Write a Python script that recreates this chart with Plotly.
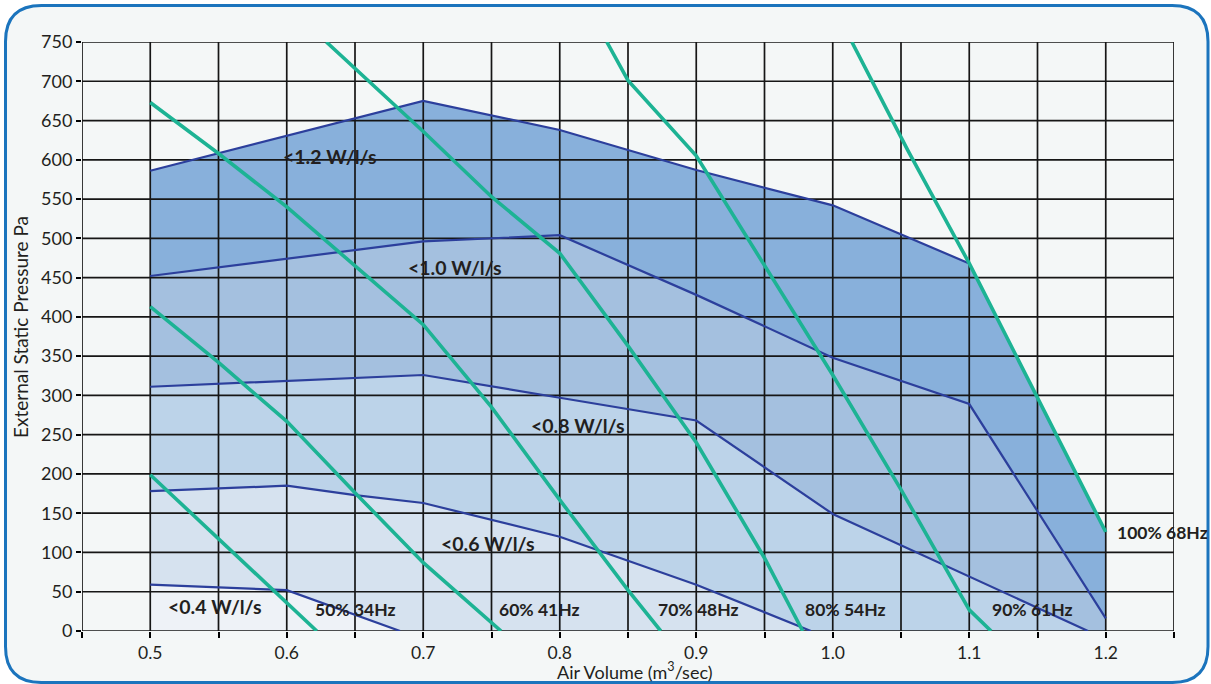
import plotly.graph_objects as go

# ---------------- data ----------------
x_grid = [round(0.45 + 0.05 * i, 2) for i in range(17)]       # 0.45 .. 1.25
y_grid = [50 * i for i in range(16)]                           # 0 .. 750
x_tick_vals = [0.5, 0.6, 0.7, 0.8, 0.9, 1.0, 1.1, 1.2]
x_tick_text = ["0.5", "0.6", "0.7", "0.8", "0.9", "1.0", "1.1", "1.2"]

# specific fan power boundaries (W/l/s)
w12_x = [0.5, 0.7, 0.8, 0.9, 1.0, 1.1]
w12_y = [586, 675, 638, 587, 542, 468]
w10_x = [0.5, 0.7, 0.8, 0.9, 1.0, 1.1, 1.2]
w10_y = [452, 496, 504, 428, 348, 289, 16]
w08_x = [0.5, 0.7, 0.8, 0.9, 1.0, 1.187]
w08_y = [311, 326, 297, 268, 149, 0]
w06_x = [0.5, 0.6, 0.65, 0.7, 0.8, 0.9, 0.984]
w06_y = [178, 185, 173, 163, 120, 59, 0]
w04_x = [0.5, 0.6, 0.683]
w04_y = [59, 52, 0]

# fan speed curves
hz50_x = [0.5, 0.55, 0.6, 0.622]
hz50_y = [199, 117, 36, 0]
hz60_x = [0.5, 0.55, 0.6, 0.65, 0.7, 0.757]
hz60_y = [413, 342, 267, 176, 87, 0]
hz70_x = [0.5, 0.55, 0.6, 0.65, 0.7, 0.75, 0.8, 0.85, 0.874]
hz70_y = [673, 608, 540, 465, 390, 285, 167, 52, 0]
hz80_x = [0.629, 0.7, 0.75, 0.8, 0.85, 0.9, 0.95, 0.978]
hz80_y = [750, 636, 553, 481, 363, 240, 93, 0]
hz90_x = [0.8345, 0.85, 0.9, 0.95, 1.0, 1.05, 1.1, 1.116]
hz90_y = [750, 701, 605, 465, 326, 180, 27, 0]
hz100_x = [1.014, 1.055, 1.1, 1.15, 1.2]
hz100_y = [750, 612, 468, 296, 126]

sfp_labels = ["<1.2 W/l/s", "<1.0 W/l/s", "<0.8 W/l/s", "<0.6 W/l/s", "<0.4 W/l/s"]
sfp_label_x = [0.631, 0.723, 0.813, 0.747, 0.547]
sfp_label_y = [604, 463, 262, 112, 31]

hz_labels = ["50% 34Hz", "60% 41Hz", "70% 48Hz", "80% 54Hz", "90% 61Hz", "100% 68Hz"]
hz_label_x = [0.65, 0.785, 0.902, 1.009, 1.146, 1.207]
hz_label_y = [27, 27, 27, 27, 27, 126]

# ---------------- styling ----------------
W, H = 1211, 684
L, R, T, B = 82, 1174, 42, 631
BG = "#f4f7f7"
TXT = "#231f20"
BLUE = "#2c3f9c"
GREEN = "#1db394"
FILLS = ["#88b0db", "#a4c0df", "#bcd3e9", "#d6e2ef", "#eef2f7"]
FONT = "Lato"


def px_x(p):
    return (p - L) / (R - L)


def px_y(p):
    return (B - p) / (B - T)


def region(bx, by, tail_x=None, tail_y=None):
    xs = list(bx) + (tail_x or [])
    ys = list(by) + (tail_y or [])
    xs += [xs[-1], bx[0]]
    ys += [0, 0]
    return xs, ys


fig = go.Figure()

# filled bands (darkest first, lighter overlay)
tail = [(x, y) for x, y in zip(hz100_x, hz100_y) if x > w12_x[-1]]
regions = [
    region(w12_x, w12_y, [t[0] for t in tail], [t[1] for t in tail]),
    region(w10_x, w10_y),
    region(w08_x, w08_y),
    region(w06_x, w06_y),
    region(w04_x, w04_y),
]
for (rx, ry), col in zip(regions, FILLS):
    fig.add_trace(go.Scatter(x=rx, y=ry, mode="lines", fill="toself",
                             fillcolor=col, line=dict(width=0, color=col),
                             hoverinfo="skip", showlegend=False))

# grid lines above the fills
gx, gy = [], []
for xv in x_grid:
    gx += [xv, xv, None]
    gy += [y_grid[0], y_grid[-1], None]
for yv in y_grid:
    gx += [x_grid[0], x_grid[-1], None]
    gy += [yv, yv, None]
fig.add_trace(go.Scatter(x=gx, y=gy, mode="lines",
                         line=dict(color="#161616", width=1.7),
                         hoverinfo="skip", showlegend=False, cliponaxis=False))

# boundary lines
for bx, by in [(w12_x, w12_y), (w10_x, w10_y), (w08_x, w08_y),
               (w06_x, w06_y), (w04_x, w04_y)]:
    fig.add_trace(go.Scatter(x=bx, y=by, mode="lines",
                             line=dict(color=BLUE, width=2.2),
                             hoverinfo="skip", showlegend=False))

# fan speed curves
for hx, hy in [(hz50_x, hz50_y), (hz60_x, hz60_y), (hz70_x, hz70_y),
               (hz80_x, hz80_y), (hz90_x, hz90_y), (hz100_x, hz100_y)]:
    fig.add_trace(go.Scatter(x=hx, y=hy, mode="lines",
                             line=dict(color=GREEN, width=3.6),
                             hoverinfo="skip", showlegend=False))

annotations = []
for t, x, y in zip(sfp_labels, sfp_label_x, sfp_label_y):
    annotations.append(dict(x=x, y=y, xref="x", yref="y", text="<b>" + t + "</b>",
                            showarrow=False, font=dict(family=FONT, size=19.5, color=TXT)))
for i, (t, x, y) in enumerate(zip(hz_labels, hz_label_x, hz_label_y)):
    anchor = "left" if i == len(hz_labels) - 1 else "center"
    annotations.append(dict(x=x, y=y, xref="x", yref="y", text="<b>" + t + "</b>",
                            xanchor=anchor, showarrow=False,
                            font=dict(family=FONT, size=17.5, color=TXT)))
# axis titles
annotations.append(dict(x=px_x(635), y=px_y(671), xref="paper", yref="paper",
                        xanchor="center", yanchor="middle",
                        text="Air Volume (m<sup>3</sup>/sec)", showarrow=False,
                        font=dict(family=FONT, size=18, color=TXT)))
annotations.append(dict(x=px_x(20), y=px_y(327), xref="paper", yref="paper",
                        xanchor="center", yanchor="middle",
                        text="External Static Pressure Pa", textangle=-90, showarrow=False,
                        font=dict(family=FONT, size=19, color=TXT)))

# rounded frame
fl, fr, ft, fb, rad = 5.5, 1208.0, 5.5, 682.5, 36


def P(a, b):
    return f"{px_x(a):.5f},{px_y(b):.5f}"


path = (f"M {P(fl + rad, ft)} L {P(fr - rad, ft)} Q {P(fr, ft)} {P(fr, ft + rad)} "
        f"L {P(fr, fb - rad)} Q {P(fr, fb)} {P(fr - rad, fb)} "
        f"L {P(fl + rad, fb)} Q {P(fl, fb)} {P(fl, fb - rad)} "
        f"L {P(fl, ft + rad)} Q {P(fl, ft)} {P(fl + rad, ft)} Z")

fig.update_layout(
    width=W, height=H,
    margin=dict(l=L, r=W - R, t=T, b=H - B, pad=0),
    paper_bgcolor="white",
    plot_bgcolor=BG,
    showlegend=False,
    annotations=annotations,
    shapes=[dict(type="path", path=path, xref="paper", yref="paper",
                 line=dict(color="#1b74bd", width=3), fillcolor=BG, layer="below")],
    xaxis=dict(range=[x_grid[0], x_grid[-1]], tickmode="array", tickvals=x_tick_vals,
               ticktext=x_tick_text,
               showgrid=False, zeroline=False, ticks="outside", ticklen=6,
               tickcolor="black", tickwidth=1.5, showline=False,
               minor=dict(tickmode="array", tickvals=x_grid, ticks="outside", ticklen=6,
                          tickcolor="black", tickwidth=1.5, showgrid=False),
               tickfont=dict(family=FONT, size=17.5, color=TXT)),
    yaxis=dict(range=[y_grid[0], y_grid[-1]], tickmode="array", tickvals=y_grid,
               showgrid=False, zeroline=False, ticks="outside", ticklen=5,
               tickcolor="black", tickwidth=1.5, showline=False,
               tickfont=dict(family=FONT, size=18, color=TXT)),
)

fig.write_html("out.html", config={"displayModeBar": False},
               post_script="document.body.style.margin='0';document.body.style.overflow='hidden';")
